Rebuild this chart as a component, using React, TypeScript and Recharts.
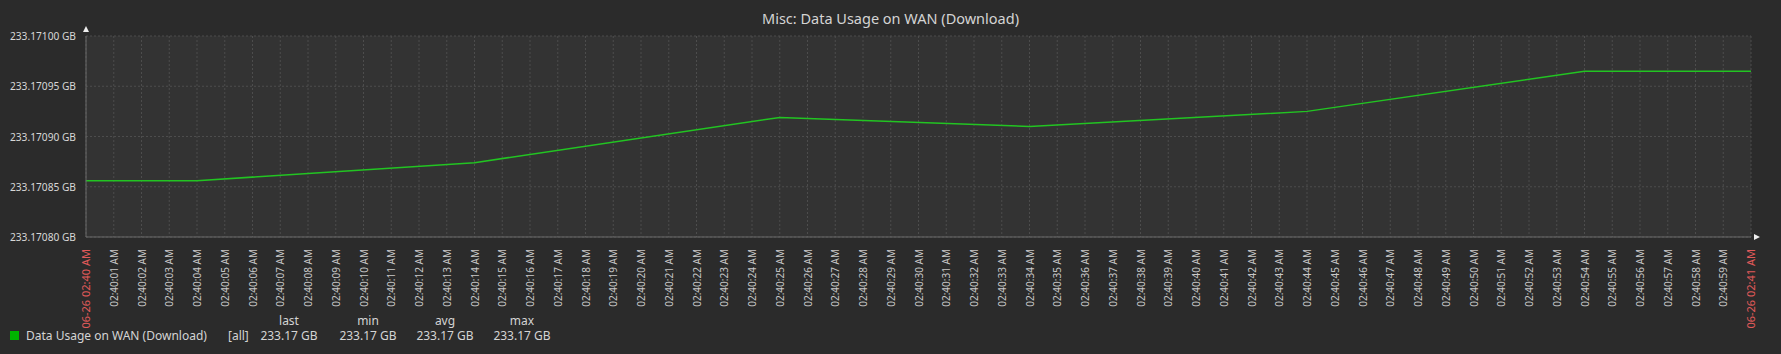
import React from 'react';
import { LineChart, Line, XAxis, YAxis, CartesianGrid, ReferenceDot } from 'recharts';

// sample times (seconds after 02:40:00) and values in GB
const seconds = [0, 4, 14, 25, 34, 44, 54, 60];
const downloadGB = [233.170856, 233.170856, 233.170874, 233.170919, 233.17091, 233.170925, 233.170965, 233.170965];

const yTicks = [233.1708, 233.17085, 233.1709, 233.17095, 233.171];
const xTicks = Array.from({ length: 61 }, (_, i) => i);
const legendCols = ['last', 'min', 'avg', 'max'];

const data = seconds.map((t, i) => ({ t, v: downloadGB[i] }));

const FONT = '"Noto Sans", "DejaVu Sans", sans-serif';
const BG = '#2b2b2b';
const PLOT_BG = '#333333';
const GRID = '#4d4d4d';
const LINE = '#22c422';
const TEXT = '#d4d4d4';

function xLabel(s: number) {
  if (s === 0) return '06-26 02:40 AM';
  if (s === 60) return '06-26 02:41 AM';
  return `02:40:${String(s).padStart(2, '0')} AM`;
}

const XTick = (props: any) => {
  const { x, y, payload } = props;
  const s = payload.value as number;
  const edge = s === 0 || s === 60;
  return (
    <text
      x={x + 4}
      y={y + 4}
      transform={`rotate(-90, ${x + 4}, ${y + 4})`}
      textAnchor="end"
      fontSize={edge ? 11 : 10}
      fontFamily={FONT}
      fill={edge ? '#e05a5a' : '#c8c8c8'}
    >
      {xLabel(s)}
    </text>
  );
};

const YTick = (props: any) => {
  const { x, y, payload } = props;
  return (
    <text x={x} y={y} dy={4} textAnchor="end" fontSize={10.2} fontFamily={FONT} fill="#d8d8d8">
      {`${(payload.value as number).toFixed(5)} GB`}
    </text>
  );
};

const UpArrow = (p: any) => (
  <path d={`M${p.cx - 3},${p.cy - 4} L${p.cx + 3},${p.cy - 4} L${p.cx},${p.cy - 10} Z`} fill="#eeeeee" />
);
const RightArrow = (p: any) => (
  <path d={`M${p.cx + 3},${p.cy - 3} L${p.cx + 3},${p.cy + 3} L${p.cx + 9},${p.cy} Z`} fill="#eeeeee" />
);

export default function App() {
  const last = downloadGB[downloadGB.length - 1];
  const min = Math.min(...downloadGB);
  const max = Math.max(...downloadGB);
  const avg = downloadGB.reduce((a, b) => a + b, 0) / downloadGB.length;
  const stats = [last, min, avg, max].map(v => `${v.toFixed(2)} GB`);
  const colX = [289, 368, 445, 522];

  return (
    <div style={{ position: 'absolute', left: 0, top: 0, width: 1781, height: 354, background: BG, fontFamily: FONT }}>
      <div style={{ position: 'absolute', top: 8, left: 0, width: 1781, textAlign: 'center', color: TEXT, fontSize: 14.5 }}>
        Misc: Data Usage on WAN (Download)
      </div>
      <LineChart width={1781} height={354} data={data} margin={{ top: 36, right: 30, bottom: 0, left: 0 }}>
        <CartesianGrid fill={PLOT_BG} stroke={GRID} strokeDasharray="2 2" />
        <XAxis
          type="number"
          dataKey="t"
          domain={[0, 60]}
          ticks={xTicks}
          interval={0}
          height={117}
          tick={<XTick />}
          tickLine={false}
          axisLine={{ stroke: '#6a6a6a' }}
        />
        <YAxis
          type="number"
          domain={[233.1708, 233.171]}
          ticks={yTicks}
          width={86}
          tickLine={false}
          tickSize={0}
          tickMargin={10}
          axisLine={{ stroke: '#6a6a6a' }}
          tick={<YTick />}
        />
        <Line type="linear" dataKey="v" stroke={LINE} strokeWidth={1.5} dot={false} isAnimationActive={false} />
        <ReferenceDot x={0} y={233.171} ifOverflow="visible" shape={<UpArrow />} />
        <ReferenceDot x={60} y={233.1708} ifOverflow="visible" shape={<RightArrow />} />
      </LineChart>
      <div style={{ position: 'absolute', left: 10, top: 331, width: 9, height: 9, background: '#00b400' }} />
      <div style={{ position: 'absolute', left: 26, top: 327, color: TEXT, fontSize: 12, whiteSpace: 'nowrap' }}>
        Data Usage on WAN (Download)
      </div>
      <div style={{ position: 'absolute', left: 228, top: 327, color: TEXT, fontSize: 12 }}>[all]</div>
      {legendCols.map((c, i) => (
        <React.Fragment key={c}>
          <div style={{ position: 'absolute', left: colX[i] - 40, width: 80, top: 312, textAlign: 'center', color: TEXT, fontSize: 12 }}>{c}</div>
          <div style={{ position: 'absolute', left: colX[i] - 40, width: 80, top: 327, textAlign: 'center', color: TEXT, fontSize: 12 }}>{stats[i]}</div>
        </React.Fragment>
      ))}
    </div>
  );
}
